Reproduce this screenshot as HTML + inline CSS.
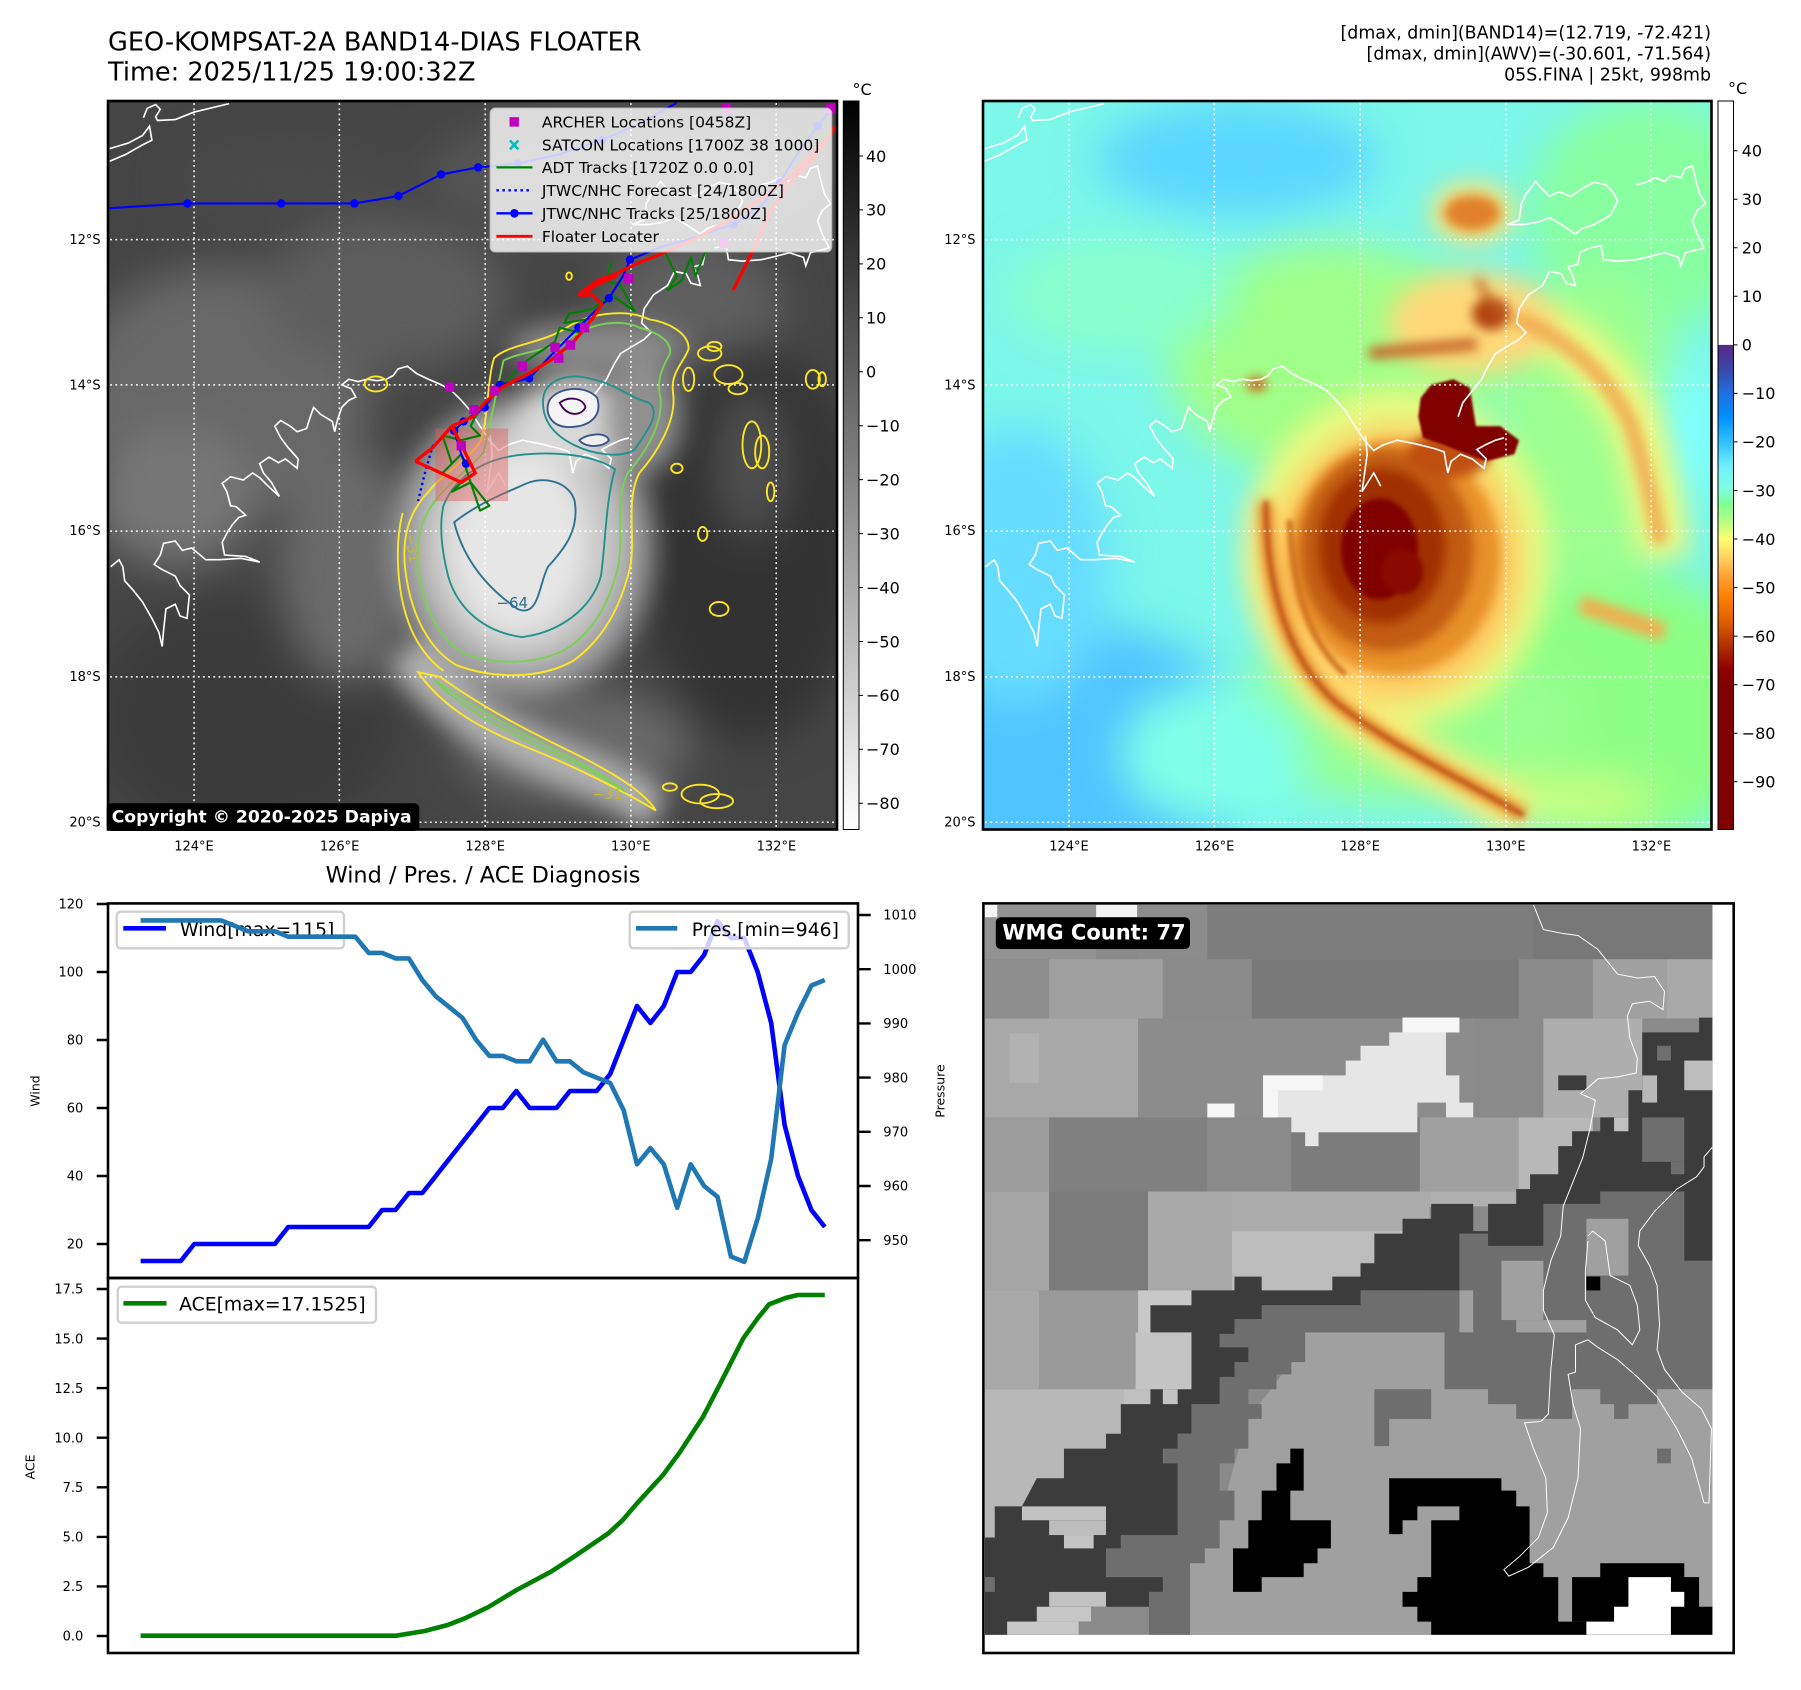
<!DOCTYPE html>
<html><head><meta charset="utf-8"><style>
html,body{margin:0;padding:0;background:#fff;}
body{width:1801px;height:1690px;overflow:hidden;position:relative;}
svg{position:absolute;left:0;top:0;}
</style></head><body>
<svg width="1801" height="1690" viewBox="0 0 1801 1690" font-family="'DejaVu Sans','Liberation Sans',sans-serif">
<defs>
<filter id="b45" filterUnits="userSpaceOnUse" x="-300" y="-300" width="2200" height="2200" color-interpolation-filters="sRGB"><feGaussianBlur stdDeviation="45"/></filter>
<filter id="b28" filterUnits="userSpaceOnUse" x="-300" y="-300" width="2200" height="2200" color-interpolation-filters="sRGB"><feGaussianBlur stdDeviation="28"/></filter>
<filter id="b12" filterUnits="userSpaceOnUse" x="-300" y="-300" width="2200" height="2200" color-interpolation-filters="sRGB"><feGaussianBlur stdDeviation="12"/></filter>
<filter id="b5" filterUnits="userSpaceOnUse" x="-300" y="-300" width="2200" height="2200" color-interpolation-filters="sRGB"><feGaussianBlur stdDeviation="5"/></filter>
<filter id="b2" filterUnits="userSpaceOnUse" x="-300" y="-300" width="2200" height="2200" color-interpolation-filters="sRGB"><feGaussianBlur stdDeviation="2"/></filter>
<linearGradient id="cb1" x1="0" y1="0" x2="0" y2="1"><stop offset="0" stop-color="#000"/><stop offset="1" stop-color="#fff"/></linearGradient>
<linearGradient id="cb2" x1="0" y1="0" x2="0" y2="1">
<stop offset="0" stop-color="#5a2686"/><stop offset="0.05" stop-color="#3848a8"/><stop offset="0.10" stop-color="#2070e0"/>
<stop offset="0.15" stop-color="#0090ff"/><stop offset="0.20" stop-color="#30c0ff"/><stop offset="0.25" stop-color="#70f0ff"/>
<stop offset="0.30" stop-color="#80ffe0"/><stop offset="0.33" stop-color="#80ff90"/><stop offset="0.37" stop-color="#c0ff80"/>
<stop offset="0.40" stop-color="#ffff70"/><stop offset="0.44" stop-color="#ffd060"/><stop offset="0.48" stop-color="#ffa030"/>
<stop offset="0.52" stop-color="#ff8000"/><stop offset="0.57" stop-color="#e06000"/><stop offset="0.62" stop-color="#b03000"/>
<stop offset="0.67" stop-color="#900000"/><stop offset="0.70" stop-color="#800000"/><stop offset="1" stop-color="#800000"/>
</linearGradient>
<clipPath id="mc"><rect x="6.4" y="6.4" width="1555" height="1554"/></clipPath>
<clipPath id="bc"><rect x="20" y="20" width="1472" height="1477"/></clipPath>
<path id="coast" d="M82 42 L90 22 L108 14 L118 24 L108 40 L112 48 L150 46 L190 30 L265 12 M10 108 L50 96 L80 80 L95 60 L100 90 L80 100 L45 120 L10 135 M12 1000 L30 985 L38 1000 L42 1030 L60 1050 L80 1075 L100 1110 L115 1140 L122 1170 L125 1135 L130 1090 L150 1080 L160 1105 L175 1110 L180 1060 L160 1040 L150 1020 L120 1005 L105 995 L118 975 L125 950 L150 945 L165 965 L185 960 L215 985 L245 985 L290 982 L330 990 L300 978 L255 975 L250 948 L262 925 L272 910 L285 895 L300 890 L280 872 L268 870 L260 840 L250 822 L268 808 L295 815 L315 800 L330 810 L345 825 L372 850 L355 820 L338 800 L330 780 L350 766 L370 778 L385 770 L410 790 L412 770 L390 745 L375 725 L362 700 L375 688 L395 700 L410 712 L430 705 L438 680 L445 660 L460 675 L485 690 L490 712 L495 690 L505 660 L520 645 L535 638 L525 620 L505 612 L520 600 L540 605 L560 600 L580 603 L600 600 L615 592 L625 578 L645 572 L665 588 L690 600 L718 612 L740 625 L760 645 L780 668 L800 700 L820 730 L840 752 L860 740 L890 730 L930 738 L970 748 L990 755 L998 800 L1005 775 L1025 760 L1050 770 L1075 790 L1080 770 L1060 750 L1078 740 L1100 730 L1118 725 M822 720 L826 760 L815 840 L840 800 L855 828 M1020 680 L1030 650 L1050 625 L1070 600 L1085 570 L1100 545 L1125 530 L1150 515 L1165 500 L1145 480 L1150 450 L1170 420 L1200 400 L1215 370 L1240 375 L1250 395 L1270 400 L1265 380 L1255 360 L1275 355 L1280 330 L1300 320 L1325 315 L1330 345 L1360 348 L1400 345 L1430 338 L1460 330 L1490 340 L1495 358 L1505 330 L1545 320 M1125 270 L1150 260 L1155 225 L1165 205 L1185 178 L1200 195 L1215 210 L1235 200 L1260 210 L1290 190 L1310 180 L1335 185 L1350 200 L1360 220 L1345 250 L1310 270 L1285 278 L1270 290 L1240 270 L1215 255 L1190 265 L1160 270 L1125 270 M1400 185 L1420 180 L1440 170 L1460 178 L1475 165 L1495 170 L1505 150 L1520 145 L1528 180 L1535 205 L1548 225 L1530 240 L1520 262 L1530 290 L1545 320"/>
<g id="grid" stroke="#fff" stroke-width="3.2" stroke-dasharray="4 7" fill="none">
<path d="M190 0 V1568 M500 0 V1568 M811 0 V1568 M1122 0 V1568 M1432 0 V1568 M0 302 H1568 M0 612 H1568 M0 924 H1568 M0 1235 H1568 M0 1545 H1568"/>
</g>
</defs>

<!-- Titles -->
<text x="108" y="50.5" font-size="25.6" fill="#000">GEO-KOMPSAT-2A BAND14-DIAS FLOATER</text>
<text x="108" y="80.5" font-size="25.6" fill="#000">Time: 2025/11/25 19:00:32Z</text>
<g font-size="17.4" text-anchor="end" fill="#000">
<text x="1711" y="38.7">[dmax, dmin](BAND14)=(12.719, -72.421)</text>
<text x="1711" y="59.5">[dmax, dmin](AWV)=(-30.601, -71.564)</text>
<text x="1711" y="80.3">05S.FINA | 25kt, 998mb</text>
</g>

<!-- ============ MAP 1 ============ -->
<svg x="105" y="98" width="735" height="735" viewBox="0 0 1568 1568">
<g clip-path="url(#mc)">
<rect x="0" y="0" width="1568" height="1568" fill="#454545"/>
<g filter="url(#b45)">
<ellipse cx="250" cy="620" rx="320" ry="260" fill="#686868"/>
<ellipse cx="150" cy="850" rx="180" ry="150" fill="#767676"/>
<ellipse cx="600" cy="420" rx="260" ry="160" fill="#5e5e5e"/>
<ellipse cx="1100" cy="160" rx="420" ry="140" fill="#555"/>
<ellipse cx="1250" cy="450" rx="200" ry="150" fill="#5f5f5f"/>
<ellipse cx="1380" cy="950" rx="230" ry="420" fill="#323232"/>
<ellipse cx="1380" cy="780" rx="80" ry="160" fill="#505050"/>
<ellipse cx="300" cy="1320" rx="320" ry="260" fill="#3b3b3b"/>
<ellipse cx="520" cy="1000" rx="150" ry="250" fill="#6a6a6a"/>
<ellipse cx="1000" cy="1380" rx="250" ry="120" fill="#6a6a6a"/>
<ellipse cx="400" cy="180" rx="250" ry="100" fill="#4a4a4a"/>
</g>
<g filter="url(#b28)">
<ellipse cx="890" cy="960" rx="280" ry="320" fill="#9a9a9a"/>
<ellipse cx="890" cy="950" rx="220" ry="260" fill="#c6c6c6"/>
<ellipse cx="880" cy="950" rx="150" ry="200" fill="#e6e6e6"/>
<ellipse cx="1000" cy="690" rx="130" ry="90" fill="#d8d8d8"/>
<ellipse cx="1050" cy="530" rx="190" ry="55" fill="#8a8a8a"/>
<ellipse cx="1150" cy="680" rx="80" ry="120" fill="#909090"/>
<path d="M640 1180 C720 1300 850 1370 1000 1430 S1130 1500 1180 1520" stroke="#b4b4b4" stroke-width="90" fill="none"/>
</g>
<use href="#grid"/>
<use href="#coast" fill="none" stroke="#fff" stroke-width="3.5"/>
<!-- contours -->
<g fill="none" stroke-width="4">
<path stroke="#fde725" d="M830 555 C860 525 930 525 985 490 C1030 460 1110 448 1160 472 C1200 478 1245 500 1245 535 C1235 565 1205 585 1212 630 C1220 690 1175 760 1140 800 C1108 860 1135 950 1118 1010 C1100 1080 1068 1150 1000 1200 C930 1240 830 1240 750 1210 C680 1170 648 1080 640 1000 C633 930 652 880 690 840 C722 800 770 775 800 735 C818 690 815 600 830 555 Z"/>
<path stroke="#fde725" d="M668 1225 C720 1300 800 1345 900 1385 C1000 1425 1100 1475 1175 1520 C1150 1480 1085 1440 1005 1400 C905 1352 805 1300 715 1235 Z"/>
<path stroke="#fde725" d="M635 885 C618 950 622 1050 648 1120 C662 1160 690 1200 722 1222"/>
<g stroke="#fde725">
<ellipse cx="578" cy="610" rx="24" ry="16"/><ellipse cx="1245" cy="600" rx="12" ry="25"/><ellipse cx="1290" cy="545" rx="25" ry="15"/>
<ellipse cx="1330" cy="590" rx="30" ry="20"/><ellipse cx="1380" cy="740" rx="20" ry="50"/><ellipse cx="1402" cy="755" rx="15" ry="35"/>
<ellipse cx="1420" cy="840" rx="8" ry="20"/><ellipse cx="1510" cy="600" rx="15" ry="20"/><ellipse cx="1530" cy="600" rx="8" ry="15"/>
<ellipse cx="1310" cy="1090" rx="20" ry="15"/><ellipse cx="1270" cy="1485" rx="40" ry="20"/><ellipse cx="1305" cy="1500" rx="35" ry="15"/>
<ellipse cx="1205" cy="1470" rx="15" ry="8"/><ellipse cx="1275" cy="930" rx="10" ry="15"/><ellipse cx="1350" cy="620" rx="20" ry="12"/>
<ellipse cx="1220" cy="790" rx="12" ry="10"/><ellipse cx="990" cy="380" rx="6" ry="8"/><ellipse cx="1300" cy="530" rx="15" ry="10"/>
</g>
<path stroke="#7ad151" d="M850 560 C890 540 950 540 995 510 C1040 480 1100 470 1140 490 C1180 500 1210 520 1205 545 C1190 575 1175 600 1185 640 C1190 700 1150 760 1115 800 C1085 860 1110 950 1092 1010 C1075 1075 1045 1135 985 1175 C920 1210 835 1210 765 1185 C705 1150 675 1070 668 1000 C662 935 680 885 712 850 C740 815 780 790 808 755 Z"/>
<path stroke="#7ad151" d="M700 1240 C760 1300 850 1350 950 1395 C1030 1430 1080 1460 1110 1480 C1060 1440 990 1405 920 1370 C830 1325 760 1280 700 1240 Z"/>
<path stroke="#21918c" d="M722 870 C745 810 805 772 880 762 C960 752 1045 762 1088 792 C1068 860 1068 950 1058 1020 C1038 1090 970 1140 890 1150 C810 1140 752 1090 732 1020 C717 960 713 910 722 870 Z"/>
<path stroke="#21918c" d="M935 640 C940 600 990 585 1040 600 C1090 610 1120 640 1160 650 C1190 670 1150 720 1130 750 C1100 770 1040 760 1000 740 C960 720 930 690 935 640 Z"/>
<path stroke="#2c728e" d="M745 905 C765 985 815 1045 880 1090 C925 1110 925 1040 945 1000 C982 960 1012 920 1002 860 C992 822 942 805 900 822 C860 840 800 862 745 905 Z"/>
<path stroke="#3b528b" fill="#f4f4f4" d="M948 645 C968 615 1028 612 1050 640 C1062 680 1032 702 990 702 C952 702 936 672 948 645 Z"/>
<path stroke="#3b528b" fill="#eee" d="M1012 730 C1030 715 1070 712 1075 730 C1065 745 1025 748 1012 730 Z"/>
<path stroke="#440154" d="M970 650 C990 635 1020 640 1025 660 C1015 680 985 680 970 650 Z"/>
</g>
<text x="835" y="1088" font-size="32" fill="#2c728e">−64</text>
<text x="1040" y="1495" font-size="30" fill="#c8b830">−31</text>
<text x="640" y="930" font-size="30" fill="#c8b830" transform="rotate(80 640 930)">−31</text>
<!-- tracks -->
<rect x="705" y="705" width="155" height="155" fill="#e06060" opacity="0.45"/>
<g fill="none" stroke="#008000" stroke-width="4.5" stroke-linejoin="round">
<path d="M1080 350 L1070 390 L1100 400 L1130 455 L1080 420 L1040 450 L990 460 L980 480 L1040 470 L1010 500 L970 490 L960 520 L900 560 L860 600 L820 640 L790 680 L780 700 L800 720 L760 730 L720 720 L740 780 L720 800 L760 760 L800 880 L820 870 L780 820 L740 840 L760 820"/>
<path d="M1195 330 L1220 380 L1200 410 L1230 390 L1250 340 L1260 380 L1280 330 L1300 320"/>
<path d="M1540 40 L1500 70 L1470 100 M1560 60 L1520 90"/>
</g>
<path d="M10 235 L176 225 L376 225 L532 225 L626 209 L717 163 L796 148 L880 140 L970 120 L1060 90 L1140 55 L1220 10" fill="none" stroke="#0000ff" stroke-width="4.5"/>
<g fill="#0000ff"><circle cx="176" cy="225" r="9"/><circle cx="376" cy="225" r="9"/><circle cx="532" cy="225" r="9"/><circle cx="626" cy="209" r="9"/><circle cx="717" cy="163" r="9"/><circle cx="796" cy="148" r="9"/><circle cx="880" cy="140" r="9"/><circle cx="1060" cy="90" r="9"/></g>
<path d="M1545 30 L1520 60 L1470 130 L1440 180 L1400 230 L1340 270 L1250 300 L1180 320 L1120 345 L1105 380 L1075 427 L1040 460 L1010 490 L960 540 L905 598 L843 612 L810 660 L765 690 L745 710 L760 760 L770 780" fill="none" stroke="#0000ff" stroke-width="4.5"/>
<g fill="#0000ff"><circle cx="1520" cy="60" r="9"/><circle cx="1440" cy="180" r="9"/><circle cx="1340" cy="270" r="9"/><circle cx="1120" cy="345" r="9"/><circle cx="1075" cy="427" r="9"/><circle cx="1010" cy="490" r="9"/><circle cx="905" cy="598" r="9"/><circle cx="843" cy="612" r="9"/><circle cx="810" cy="660" r="9"/><circle cx="765" cy="690" r="9"/><circle cx="745" cy="710" r="9"/><circle cx="770" cy="780" r="9"/></g>
<path d="M700 740 L685 790 L675 830 L668 860" fill="none" stroke="#0000ff" stroke-width="5" stroke-dasharray="5 7"/>
<g fill="none" stroke="#ff0000" stroke-width="7" stroke-linejoin="round">
<path d="M662 775 L700 745 L740 700 L785 680 L810 650 L850 615 L900 590 L950 560 L1000 520 L1040 470 L1060 440 L1040 420 L1010 420 L1050 390 L1090 375 L1130 355 L1180 335 L1260 300 L1330 260 L1400 215 L1470 160 L1530 100 L1560 60"/>
<path d="M1340 410 L1380 330 L1420 240 L1470 170 L1520 120"/>
<path d="M662 775 L760 820 L790 800 L740 700"/>
<path d="M1015 415 L1060 385 L1090 380 L1045 400 L1020 425"/>
</g>
<g fill="#bf00bf">
<rect x="725" y="607" width="20" height="20"/><rect x="880" y="562" width="20" height="20"/><rect x="950" y="522" width="20" height="20"/>
<rect x="983" y="517" width="20" height="20"/><rect x="958" y="545" width="20" height="20"/><rect x="1107" y="375" width="20" height="20"/>
<rect x="1013" y="480" width="20" height="20"/><rect x="777" y="655" width="20" height="20"/><rect x="820" y="615" width="20" height="20"/>
<rect x="750" y="732" width="20" height="20"/><rect x="1315" y="12" width="20" height="20"/><rect x="1538" y="12" width="20" height="20"/><rect x="1310" y="300" width="20" height="20"/>
</g>
</g>
</svg>
<rect x="108" y="101" width="729" height="728.5" fill="none" stroke="#000" stroke-width="2.6"/>
<!-- legend map1 -->
<rect x="490.3" y="108.3" width="341.3" height="143.5" rx="5" fill="#fff" fill-opacity="0.8" stroke="#ccc" stroke-opacity="0.8" stroke-width="1.5"/>
<rect x="509.5" y="117.2" width="9.4" height="9.4" fill="#bf00bf"/>
<path d="M510 140.5 L518.4 149.3 M518.4 140.5 L510 149.3" stroke="#00bfbf" stroke-width="2.6"/>
<line x1="496.4" y1="167.4" x2="532.5" y2="167.4" stroke="#008000" stroke-width="2.3"/>
<line x1="496.4" y1="190.3" x2="532.5" y2="190.3" stroke="#0000ff" stroke-width="2.4" stroke-dasharray="2.5 3.5"/>
<line x1="496.4" y1="213.3" x2="532.5" y2="213.3" stroke="#0000ff" stroke-width="2.3"/>
<circle cx="514.4" cy="213.3" r="4.3" fill="#0000ff"/>
<line x1="496.4" y1="236.3" x2="532.5" y2="236.3" stroke="#ff0000" stroke-width="2.8"/>
<g font-size="15.5" fill="#000">
<text x="541.9" y="127.5">ARCHER Locations [0458Z]</text>
<text x="541.9" y="150.5">SATCON Locations [1700Z 38 1000]</text>
<text x="541.9" y="173">ADT Tracks [1720Z 0.0 0.0]</text>
<text x="541.9" y="195.9">JTWC/NHC Forecast [24/1800Z]</text>
<text x="541.9" y="218.9">JTWC/NHC Tracks [25/1800Z]</text>
<text x="541.9" y="241.9">Floater Locater</text>
</g>
<rect x="106.7" y="803.3" width="312.6" height="27.7" rx="5" fill="#000"/>
<text x="111.7" y="822.3" font-size="17.2" font-weight="bold" fill="#fff">Copyright © 2020-2025 Dapiya</text>

<!-- colorbar 1 -->
<rect x="843.3" y="101" width="15.7" height="728.5" fill="url(#cb1)" stroke="#000" stroke-width="1"/>
<text x="852.5" y="95" font-size="16">°C</text>
<g stroke="#000" stroke-width="1">
<path d="M859 156H863M859 209.9H863M859 263.9H863M859 317.8H863M859 371.8H863M859 425.7H863M859 479.6H863M859 533.6H863M859 587.5H863M859 641.5H863M859 695.4H863M859 749.3H863M859 803.3H863"/>
</g>
<g font-size="16" fill="#000">
<text x="866" y="161.8">40</text><text x="866" y="215.7">30</text><text x="866" y="269.7">20</text><text x="866" y="323.6">10</text>
<text x="866" y="377.6">0</text><text x="866" y="431.5">−10</text><text x="866" y="485.4">−20</text><text x="866" y="539.4">−30</text>
<text x="866" y="593.3">−40</text><text x="866" y="647.3">−50</text><text x="866" y="701.2">−60</text><text x="866" y="755.1">−70</text><text x="866" y="809.1">−80</text>
</g>

<!-- lat/lon labels -->
<g font-size="13" fill="#000" text-anchor="end">
<text x="100.7" y="244">12°S</text><text x="100.7" y="389.6">14°S</text><text x="100.7" y="535.2">16°S</text><text x="100.7" y="680.8">18°S</text><text x="100.7" y="826.4">20°S</text>
<text x="975.5" y="244">12°S</text><text x="975.5" y="389.6">14°S</text><text x="975.5" y="535.2">16°S</text><text x="975.5" y="680.8">18°S</text><text x="975.5" y="826.4">20°S</text>
</g>
<g font-size="13" fill="#000" text-anchor="middle">
<text x="194" y="850.7">124°E</text><text x="339.6" y="850.7">126°E</text><text x="485.2" y="850.7">128°E</text><text x="630.8" y="850.7">130°E</text><text x="776.4" y="850.7">132°E</text>
<text x="1069" y="850.7">124°E</text><text x="1214.6" y="850.7">126°E</text><text x="1360.2" y="850.7">128°E</text><text x="1505.8" y="850.7">130°E</text><text x="1651.4" y="850.7">132°E</text>
</g>

<!-- ============ MAP 2 ============ -->
<svg x="980" y="98" width="735" height="735" viewBox="0 0 1568 1568">
<g clip-path="url(#mc)">
<rect x="0" y="0" width="1568" height="1568" fill="#7cf7ea"/>
<g filter="url(#b45)">
<ellipse cx="550" cy="130" rx="300" ry="120" fill="#5ad6ff"/>
<ellipse cx="200" cy="1420" rx="400" ry="300" fill="#50c4ff"/>
<ellipse cx="80" cy="1000" rx="200" ry="300" fill="#66dcff"/>
<ellipse cx="1350" cy="1300" rx="350" ry="300" fill="#8cff86"/>
<ellipse cx="1420" cy="250" rx="250" ry="250" fill="#88ffa0"/>
<ellipse cx="750" cy="560" rx="350" ry="250" fill="#a0ff88"/>
<ellipse cx="1300" cy="720" rx="200" ry="350" fill="#9cff90"/>
<ellipse cx="1500" cy="720" rx="70" ry="150" fill="#80ffff"/>
<ellipse cx="300" cy="420" rx="250" ry="120" fill="#88ffcc"/>
<ellipse cx="900" cy="1320" rx="380" ry="180" fill="#98ff90"/>
<ellipse cx="500" cy="1400" rx="200" ry="150" fill="#80ffe8"/>
<ellipse cx="1250" cy="1500" rx="200" ry="60" fill="#c8ff80"/>
</g>
<g filter="url(#b28)">
<ellipse cx="890" cy="980" rx="330" ry="360" fill="#e8fa80"/>
<path d="M1130 460 C1250 500 1350 580 1400 700 C1430 800 1450 900 1460 980" stroke="#f0f880" stroke-width="110" fill="none"/>
<ellipse cx="1050" cy="480" rx="180" ry="110" fill="#ffd878"/>
<ellipse cx="1050" cy="245" rx="90" ry="65" fill="#ffe070"/>
<path d="M610 860 C610 1050 660 1200 760 1290 C860 1370 1000 1440 1160 1530" stroke="#ffe878" stroke-width="90" fill="none"/>
<ellipse cx="890" cy="990" rx="265" ry="290" fill="#ffc860"/>
</g>
<g filter="url(#b12)">
<ellipse cx="885" cy="980" rx="225" ry="250" fill="#e8902a"/>
<path d="M1140 470 C1250 510 1340 590 1390 700 C1420 800 1440 880 1450 950" stroke="#f0a850" stroke-width="36" fill="none" opacity="0.85"/>
<ellipse cx="1050" cy="245" rx="60" ry="38" fill="#e0802a"/>
<path d="M830 545 L1060 525" stroke="#c86828" stroke-width="26" fill="none"/>
<ellipse cx="1090" cy="460" rx="40" ry="35" fill="#b04010"/>
<path d="M1060 385 L1110 470" stroke="#c06020" stroke-width="14" fill="none"/>
<path d="M1280 1080 L1460 1140" stroke="#f0b050" stroke-width="40" fill="none"/>
<ellipse cx="590" cy="610" rx="22" ry="14" fill="#d05010"/>
<path d="M610 860 C610 1050 660 1200 760 1290 C860 1370 1000 1440 1160 1530" stroke="#e07a20" stroke-width="28" fill="none"/>
<ellipse cx="868" cy="965" rx="185" ry="215" fill="#c25c12"/>
<ellipse cx="858" cy="955" rx="135" ry="165" fill="#a03000"/>
<ellipse cx="1000" cy="760" rx="90" ry="50" fill="#c05010"/>
</g>
<g filter="url(#b5)">
<path d="M610 860 C610 1050 660 1200 760 1290 C860 1370 1000 1440 1160 1530" stroke="#b04010" stroke-width="8" fill="none" opacity="0.85"/>
<path d="M660 900 C670 1050 700 1160 780 1230" stroke="#d07020" stroke-width="12" fill="none"/>
<ellipse cx="852" cy="962" rx="82" ry="108" fill="#800000"/>
<ellipse cx="900" cy="1010" rx="45" ry="50" fill="#880a00"/>
</g>
<path filter="url(#b2)" d="M940 640 L962 612 L1010 600 L1045 618 L1058 700 L1110 700 L1150 730 L1140 760 L1080 775 L1040 760 L990 740 L945 725 L935 680 Z" fill="#800000"/>
<use href="#grid"/>
<use href="#coast" fill="none" stroke="#fff" stroke-width="3.5"/>
</g>
</svg>
<rect x="983" y="101" width="728.5" height="728.5" fill="none" stroke="#000" stroke-width="2.6"/>

<!-- colorbar 2 -->
<rect x="1718" y="101" width="15.5" height="244" fill="#fff"/>
<rect x="1718" y="344.9" width="15.5" height="484.6" fill="url(#cb2)"/>
<rect x="1718" y="101" width="15.5" height="728.5" fill="none" stroke="#000" stroke-width="1"/>
<text x="1728" y="94" font-size="16">°C</text>
<g stroke="#000" stroke-width="1">
<path d="M1733.5 150.7H1737.5M1733.5 199.2H1737.5M1733.5 247.8H1737.5M1733.5 296.3H1737.5M1733.5 344.9H1737.5M1733.5 393.4H1737.5M1733.5 441.9H1737.5M1733.5 490.5H1737.5M1733.5 539H1737.5M1733.5 587.6H1737.5M1733.5 636.1H1737.5M1733.5 684.7H1737.5M1733.5 733.2H1737.5M1733.5 781.8H1737.5"/>
</g>
<g font-size="16" fill="#000">
<text x="1741.7" y="156.5">40</text><text x="1741.7" y="205">30</text><text x="1741.7" y="253.6">20</text><text x="1741.7" y="302.1">10</text>
<text x="1741.7" y="350.7">0</text><text x="1741.7" y="399.2">−10</text><text x="1741.7" y="447.7">−20</text><text x="1741.7" y="496.3">−30</text>
<text x="1741.7" y="544.8">−40</text><text x="1741.7" y="593.4">−50</text><text x="1741.7" y="641.9">−60</text><text x="1741.7" y="690.5">−70</text>
<text x="1741.7" y="739">−80</text><text x="1741.7" y="787.6">−90</text>
</g>

<!-- ============ WIND / PRES ============ -->
<text x="483" y="882.7" font-size="22.4" text-anchor="middle">Wind / Pres. / ACE Diagnosis</text>
<polyline fill="none" stroke="#0000ff" stroke-width="4.6" stroke-linejoin="round" points="140.6,1261 154,1261 167.4,1261 180.8,1261 194.3,1244 207.7,1244 221.1,1244 234.5,1244 247.9,1244 261.3,1244 274.8,1244 288.2,1227 301.6,1227 315,1227 328.4,1227 341.8,1227 355.3,1227 368.7,1227 382.1,1210 395.5,1210 408.9,1193 422.3,1193 435.8,1176 449.2,1159 462.6,1142 476,1125 489.4,1108 502.8,1108 516.2,1091 529.7,1108 543.1,1108 556.5,1108 569.9,1091 583.3,1091 596.7,1091 610.2,1074 623.6,1040 637,1006 650.4,1023 663.8,1006 677.2,972 690.7,972 704.1,955 717.5,921 730.9,938 744.3,938 757.7,972 771.2,1023 784.6,1125 798,1176 811.4,1210 824.8,1227"/>
<rect x="116.7" y="911.7" width="227.3" height="36.6" rx="4" fill="#fff" fill-opacity="0.8" stroke="#d0d0d0" stroke-width="2.4"/>
<line x1="123.3" y1="928.3" x2="166" y2="928.3" stroke="#0000ff" stroke-width="4.6"/>
<text x="180" y="936" font-size="18.8">Wind[max=115]</text>
<polyline fill="none" stroke="#1f77b4" stroke-width="4.6" stroke-linejoin="round" points="140.6,920.4 154,920.4 167.4,920.4 180.8,920.4 194.3,920.4 207.7,920.4 221.1,920.4 234.5,925.8 247.9,931.3 261.3,931.3 274.8,931.3 288.2,936.7 301.6,936.7 315,936.7 328.4,936.7 341.8,936.7 355.3,936.7 368.7,952.9 382.1,952.9 395.5,958.4 408.9,958.4 422.3,980 435.8,996.3 449.2,1007.1 462.6,1018 476,1039.7 489.4,1055.9 502.8,1055.9 516.2,1061.3 529.7,1061.3 543.1,1039.7 556.5,1061.3 569.9,1061.3 583.3,1072.2 596.7,1077.6 610.2,1083 623.6,1110.1 637,1164.3 650.4,1148.1 663.8,1164.3 677.2,1207.7 690.7,1164.3 704.1,1186 717.5,1196.8 730.9,1256.5 744.3,1261.9 757.7,1218.5 771.2,1158.9 784.6,1045.1 798,1012.6 811.4,985.5 824.8,980"/>
<rect x="629.7" y="911.7" width="219" height="36.6" rx="4" fill="#fff" fill-opacity="0.8" stroke="#d0d0d0" stroke-width="2.4"/>
<line x1="636" y1="928.3" x2="677.3" y2="928.3" stroke="#1f77b4" stroke-width="4.6"/>
<text x="691.7" y="936" font-size="18.8">Pres.[min=946]</text>
<rect x="108" y="903.4" width="750" height="374.6" fill="none" stroke="#000" stroke-width="2.6"/>
<g stroke="#000" stroke-width="2.4">
<path d="M96.7 904H108M96.7 972H108M96.7 1040H108M96.7 1108H108M96.7 1176H108M96.7 1244H108"/>
<path d="M858 915H870.7M858 969.2H870.7M858 1023.4H870.7M858 1077.6H870.7M858 1131.8H870.7M858 1186H870.7M858 1240.2H870.7"/>
<path d="M96.7 1636H108M96.7 1586.4H108M96.7 1536.9H108M96.7 1487.3H108M96.7 1437.7H108M96.7 1388.1H108M96.7 1338.6H108M96.7 1289H108"/>
</g>
<g font-size="13" text-anchor="end">
<text x="83.3" y="908.7">120</text><text x="83.3" y="976.7">100</text><text x="83.3" y="1044.7">80</text><text x="83.3" y="1112.7">60</text><text x="83.3" y="1180.7">40</text><text x="83.3" y="1248.7">20</text>
<text x="83.3" y="1640.7">0.0</text><text x="83.3" y="1591.1">2.5</text><text x="83.3" y="1541.6">5.0</text><text x="83.3" y="1492">7.5</text><text x="83.3" y="1442.4">10.0</text><text x="83.3" y="1392.8">12.5</text><text x="83.3" y="1343.3">15.0</text><text x="83.3" y="1293.7">17.5</text>
</g>
<g font-size="13">
<text x="883.3" y="919.7">1010</text><text x="883.3" y="973.9">1000</text><text x="883.3" y="1028.1">990</text><text x="883.3" y="1082.3">980</text><text x="883.3" y="1136.5">970</text><text x="883.3" y="1190.7">960</text><text x="883.3" y="1244.9">950</text>
</g>
<text transform="translate(35,1091) rotate(-90)" text-anchor="middle" dominant-baseline="central" font-size="12.5">Wind</text>
<text transform="translate(940,1091) rotate(-90)" text-anchor="middle" dominant-baseline="central" font-size="12.5">Pressure</text>
<text transform="translate(30,1467) rotate(-90)" text-anchor="middle" dominant-baseline="central" font-size="12.5">ACE</text>

<!-- ACE -->
<polyline fill="none" stroke="#008000" stroke-width="4.6" stroke-linejoin="round" points="140.6,1635.7 396.1,1635.7 424.7,1631 447.7,1625 464.9,1618.3 487.9,1607.3 516.6,1590 551,1571.7 574,1556.7 608.4,1533.3 622.8,1520 637.1,1503.3 663,1475 680.2,1451.7 703.1,1416.7 720.4,1383.3 743.3,1338.3 757.7,1318.3 769.1,1304.3 786.4,1297.7 797.8,1295 824.8,1295"/>
<rect x="117.7" y="1286.7" width="258.3" height="36" rx="4" fill="#fff" fill-opacity="0.8" stroke="#d0d0d0" stroke-width="2.4"/>
<line x1="123.4" y1="1303.3" x2="166.5" y2="1303.3" stroke="#008000" stroke-width="4.6"/>
<text x="179.1" y="1310.5" font-size="18.8">ACE[max=17.1525]</text>
<rect x="108" y="1278" width="750" height="375" fill="none" stroke="#000" stroke-width="2.6"/>

<!-- ============ BOTTOM RIGHT ============ -->
<svg x="975" y="895" width="775" height="775" viewBox="0 0 1568 1568">
<g clip-path="url(#bc)">
<rect x="20" y="20" width="1472" height="1477" fill="#8a8a8a"/>
<!-- upper texture blocks -->
<rect x="20" y="20" width="225" height="110" fill="#929292"/>
<rect x="328" y="20" width="142" height="110" fill="#8c8c8c"/>
<rect x="470" y="20" width="660" height="110" fill="#7d7d7d"/>
<rect x="1130" y="20" width="362" height="110" fill="#787878"/>
<rect x="20" y="130" width="130" height="120" fill="#8e8e8e"/>
<rect x="150" y="130" width="230" height="120" fill="#a0a0a0"/>
<rect x="380" y="130" width="180" height="120" fill="#8a8a8a"/>
<rect x="560" y="130" width="540" height="120" fill="#797979"/>
<rect x="1100" y="130" width="150" height="120" fill="#8a8a8a"/>
<rect x="1250" y="130" width="150" height="120" fill="#a0a0a0"/>
<rect x="1400" y="130" width="92" height="120" fill="#a8a8a8"/>
<rect x="20" y="250" width="310" height="200" fill="#a8a8a8"/>
<rect x="70" y="280" width="60" height="100" fill="#b2b2b2"/>
<rect x="330" y="250" width="680" height="200" fill="#8c8c8c"/>
<rect x="1010" y="250" width="140" height="200" fill="#8a8a8a"/>
<rect x="1150" y="250" width="200" height="200" fill="#aeaeae"/>
<rect x="20" y="450" width="130" height="150" fill="#9c9c9c"/>
<rect x="150" y="450" width="320" height="150" fill="#808080"/>
<rect x="470" y="450" width="170" height="150" fill="#8a8a8a"/>
<rect x="640" y="450" width="260" height="150" fill="#7c7c7c"/>
<rect x="900" y="450" width="200" height="150" fill="#a0a0a0"/>
<rect x="1100" y="450" width="150" height="150" fill="#b8b8b8"/>
<rect x="20" y="600" width="130" height="200" fill="#a5a5a5"/>
<rect x="150" y="600" width="200" height="200" fill="#7a7a7a"/>
<rect x="350" y="600" width="170" height="200" fill="#a8a8a8"/>
<rect x="520" y="600" width="400" height="80" fill="#acacac"/>
<rect x="520" y="680" width="400" height="120" fill="#bcbcbc"/>
<rect x="920" y="600" width="180" height="30" fill="#b0b0b0"/>
<rect x="20" y="800" width="110" height="200" fill="#a8a8a8"/>
<rect x="130" y="800" width="200" height="200" fill="#9a9a9a"/>
<rect x="330" y="800" width="110" height="200" fill="#c8c8c8"/>
<rect x="20" y="1000" width="280" height="300" fill="#b8b8b8"/>
<rect x="300" y="1000" width="140" height="100" fill="#c0c0c0"/>
<!-- light lower region -->
<polygon fill="#a0a0a0" points="435,1497 435,1352 495,1265 525,1150 553,1060 640,945 668,885 980,885 980,800 1492,740 1492,1497"/>
<!-- medium left strip -->
<polygon fill="#6e6e6e" points="895,885 980,885 980,800 780,800 780,830 580,830 580,858 525,858 525,888 495,888 495,915 553,915 553,945 525,945 525,975 495,975 495,1030 438,1030 438,1090 410,1090 410,1120 380,1120 380,1150 410,1150 410,1295 295,1295 295,1322 265,1322 265,1380 380,1380 380,1410 352,1410 352,1497 435,1497 435,1352 465,1352 465,1322 495,1322 495,1265 525,1265 525,1205 495,1205 495,1150 525,1150 525,1120 553,1120 553,1060 580,1060 580,1030 553,1030 553,1000 610,1000 610,970 640,970 640,945 668,945 668,885"/>
<!-- medium right region -->
<polygon fill="#6e6e6e" points="950,885 950,1000 1038,1000 1038,1030 1095,1030 1095,1060 1208,1060 1208,1000 1265,1000 1265,1030 1293,1030 1293,1060 1322,1060 1322,1030 1380,1030 1380,1000 1492,1000 1492,740 1435,740 1435,600 1265,600 1265,625 1150,625 1150,710 1038,710 1038,685 980,685 980,800 1008,800 1008,885"/>
<rect x="1065" y="740" width="85" height="120" fill="#a0a0a0"/>
<rect x="1095" y="860" width="142" height="25" fill="#a0a0a0"/>
<rect x="1237" y="655" width="85" height="115" fill="#a0a0a0"/>
<rect x="808" y="1000" width="115" height="60" fill="#6e6e6e"/>
<rect x="808" y="1060" width="30" height="55" fill="#6e6e6e"/>
<rect x="1380" y="1120" width="28" height="30" fill="#6e6e6e"/>
<!-- dark band -->
<polygon fill="#3c3c3c" points="20,1497 20,1300 40,1300 40,1237 95,1237 125,1180 180,1180 180,1120 265,1120 265,1090 295,1090 295,1030 355,1030 355,830 438,830 438,800 525,800 525,772 580,772 580,800 723,800 723,772 780,772 780,745 808,745 808,685 865,685 865,655 923,655 923,625 1008,625 1008,680 1038,680 1038,625 1095,625 1095,595 1123,595 1123,565 1180,565 1180,508 1208,508 1208,478 1265,478 1265,450 1322,450 1322,395 1350,395 1350,278 1465,278 1465,248 1492,248 1492,740 1435,740 1435,600 1265,600 1265,625 1150,625 1150,710 1038,710 1038,685 980,685 980,800 780,800 780,830 580,830 580,858 525,858 525,888 495,888 495,915 553,915 553,945 525,945 525,975 495,975 495,1030 438,1030 438,1090 410,1090 410,1120 380,1120 380,1150 410,1150 410,1295 295,1295 295,1322 265,1322 265,1380 380,1380 380,1410 352,1410 352,1440 235,1440 235,1470 210,1470 210,1497"/>
<rect x="325" y="885" width="113" height="115" fill="#c4c4c4"/>
<rect x="380" y="1000" width="30" height="30" fill="#c4c4c4"/>
<rect x="95" y="1237" width="170" height="28" fill="#c2c2c2"/>
<rect x="150" y="1265" width="115" height="30" fill="#bdbdbd"/>
<rect x="180" y="1295" width="60" height="27" fill="#c4c4c4"/>
<rect x="150" y="1410" width="115" height="30" fill="#c2c2c2"/>
<rect x="125" y="1440" width="110" height="30" fill="#c6c6c6"/>
<rect x="65" y="1470" width="145" height="27" fill="#c8c8c8"/>
<rect x="20" y="1380" width="20" height="30" fill="#6e6e6e"/>
<rect x="1350" y="450" width="85" height="90" fill="#6e6e6e"/>
<rect x="1380" y="305" width="28" height="30" fill="#6e6e6e"/>
<rect x="1408" y="540" width="27" height="25" fill="#6e6e6e"/>
<rect x="1435" y="335" width="57" height="60" fill="#bdbdbd"/>
<rect x="1350" y="365" width="30" height="55" fill="#b8b8b8"/>
<rect x="1293" y="450" width="29" height="28" fill="#c0c0c0"/>
<rect x="1180" y="365" width="57" height="30" fill="#3c3c3c"/>
<!-- white blob -->
<polygon fill="#e6e6e6" points="865,248 980,248 980,278 953,278 953,365 980,365 980,420 1008,420 1008,450 953,450 953,420 895,420 895,480 695,480 695,508 668,508 668,480 640,480 640,450 583,450 583,365 750,365 750,335 780,335 780,305 838,305 838,278 865,278"/>
<rect x="865" y="248" width="115" height="30" fill="#f6f6f6"/>
<rect x="583" y="365" width="120" height="30" fill="#f6f6f6"/>
<rect x="583" y="395" width="30" height="55" fill="#f6f6f6"/>
<rect x="470" y="422" width="55" height="28" fill="#f6f6f6"/>
<rect x="20" y="20" width="25" height="25" fill="#f6f6f6"/>
<rect x="245" y="20" width="83" height="25" fill="#f2f2f2"/>
<!-- black -->
<polygon fill="#000" points="638,1120 665,1120 665,1205 638,1205 638,1265 720,1265 720,1322 693,1322 693,1352 665,1352 665,1380 580,1380 580,1410 522,1410 522,1322 553,1322 553,1265 580,1265 580,1205 610,1205 610,1150 638,1150"/>
<polygon fill="#000" points="838,1180 1065,1180 1065,1205 1095,1205 1095,1237 1122,1237 1122,1352 1150,1352 1150,1380 1180,1380 1180,1470 1237,1470 1237,1497 923,1497 923,1470 895,1470 895,1440 865,1440 865,1410 895,1410 895,1380 923,1380 923,1265 980,1265 980,1237 895,1237 895,1265 865,1265 865,1293 838,1293"/>
<polygon fill="#000" points="1208,1380 1265,1380 1265,1352 1435,1352 1435,1380 1465,1380 1465,1440 1492,1440 1492,1497 1237,1497 1237,1470 1208,1470"/>
<polygon fill="#fff" points="1322,1380 1408,1380 1408,1410 1435,1410 1435,1440 1408,1440 1408,1497 1237,1497 1237,1470 1293,1470 1293,1440 1322,1440"/>
<rect x="1237" y="772" width="28" height="28" fill="#000"/>
<!-- coast -->
<g fill="none" stroke="#fff" stroke-width="2">
<path d="M1130 20 L1150 70 L1190 78 L1220 82 L1260 110 L1300 160 L1340 168 L1375 165 L1395 195 L1392 232 L1365 215 L1330 220 L1320 245 L1325 290 L1340 330 L1338 360 L1300 368 L1260 372 L1240 390 L1225 402 L1255 415 L1245 470 L1230 530 L1210 580 L1190 630 L1185 690 L1165 740 L1150 800 L1150 840 L1172 890 L1165 960 L1160 1050 L1145 1065 L1112 1068 L1130 1120 L1155 1180 L1158 1250 L1140 1300 L1100 1340 L1070 1365 L1080 1378 L1120 1360 L1170 1320 L1200 1260 L1220 1180 L1225 1080 L1210 1030 L1200 970 L1215 965 L1215 910 L1240 900 L1260 915 L1300 940 L1340 975 L1380 1015 L1420 1080 L1450 1140 L1475 1230 L1485 1230 L1490 1080 L1470 1040 L1430 1005 L1395 960 L1380 920 L1385 870 L1380 790 L1365 750 L1342 710 L1345 680 L1375 640 L1420 595 L1460 570 L1475 550 L1475 530 L1492 510"/>
<path d="M1240 690 L1250 680 L1275 700 L1285 770 L1325 790 L1340 830 L1345 880 L1330 910 L1300 880 L1255 855 L1235 820 L1235 760 L1240 700"/>
</g>
</g>
</svg>
<rect x="983.4" y="903.4" width="750.3" height="749.6" fill="none" stroke="#000" stroke-width="2.6"/>
<rect x="995.8" y="917.3" width="194.2" height="31.7" rx="5" fill="#000"/>
<text x="1002.3" y="939.5" font-size="21" font-weight="bold" fill="#fff">WMG Count: 77</text>
</svg>
</body></html>
